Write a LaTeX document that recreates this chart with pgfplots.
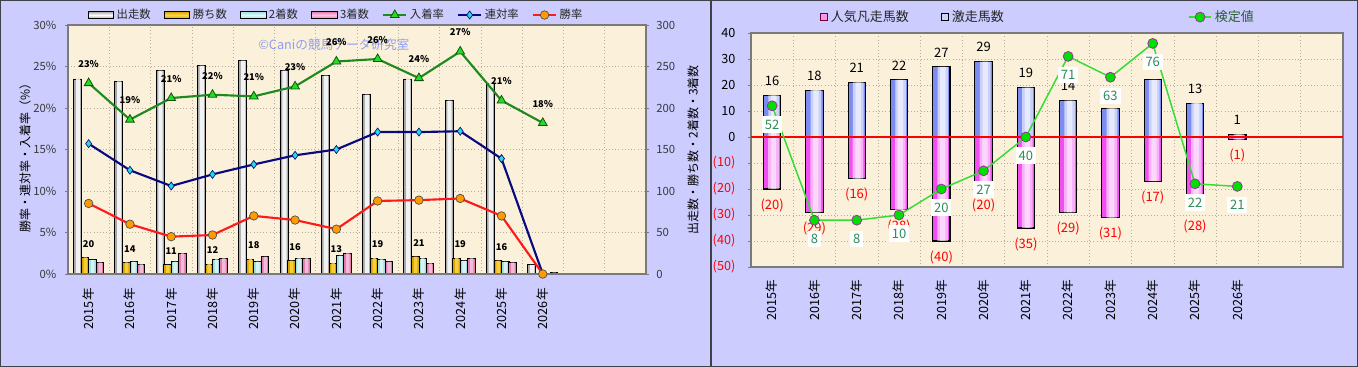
\documentclass[border=0pt]{standalone}
\usepackage{pgfplots}
\usepackage{pgfplotstable}
\pgfplotsset{compat=1.18}
\usepackage{fontspec}
\setmainfont{Noto Sans CJK JP}

\definecolor{panelbg}{HTML}{CCCCFF}
\definecolor{panelframe}{HTML}{404048}
\definecolor{plotbg}{HTML}{FBF1DB}
\definecolor{gridc}{HTML}{B5AC9C}
\definecolor{framec}{HTML}{7A7A7A}
\definecolor{ticktext}{HTML}{3A3A3A}
\definecolor{wmark}{HTML}{8E9DF2}
\definecolor{placeG}{HTML}{1E8A1E}
\definecolor{placeM}{HTML}{22DD22}
\definecolor{rentaiL}{HTML}{0A0A80}
\definecolor{rentaiM}{HTML}{22DDDD}
\definecolor{winL}{HTML}{FF1A1A}
\definecolor{winM}{HTML}{FF9A00}
\definecolor{runb}{HTML}{A8A8A8}
\definecolor{goldb}{HTML}{D9A400}
\definecolor{goldl}{HTML}{FFD84A}
\definecolor{cyanb}{HTML}{9EE0E0}
\definecolor{cyanl}{HTML}{DDFAFA}
\definecolor{pinkb}{HTML}{E878B0}
\definecolor{pinkl}{HTML}{FFC8E4}
\definecolor{gekiB}{HTML}{7C8CF0}
\definecolor{bonP}{HTML}{F050F0}
\definecolor{kenL}{HTML}{33DD33}
\definecolor{kenM}{HTML}{00E000}
\definecolor{kenE}{HTML}{993399}
\definecolor{kenT}{HTML}{2E8B5A}
\definecolor{legG}{HTML}{2A5E2A}

\pgfplotsset{/pgf/number format/assume math mode=true}

\pgfplotstableread{
x run win sec thr place rentai winr wl
0 235 20 17 14 23.0 15.7 8.5 20
1 232 14 15 12 18.6 12.5 6.0 14
2 245 11 15 25 21.2 10.6 4.5 11
3 251 12 18 19 21.6 12.0 4.7 12
4 257 18 15 21 21.4 13.2 7.0 18
5 245 16 19 19 22.6 14.3 6.5 16
6 239 13 22 25 25.6 15.0 5.4 13
7 216 19 18 15 25.9 17.1 8.8 19
8 235 21 19 13 23.6 17.1 8.9 21
9 209 19 16 19 26.8 17.2 9.1 19
10 230 16 15 14 20.9 13.9 7.0 16
11 11 0 0 2 18.2 0 0 {}
}\lefttab

\pgfplotstableread{
x geki bon ken gl bl kl
0 16 -20 12 16 (20) 52
1 18 -29 -32 18 (29) 8
2 21 -16 -32 21 (16) 8
3 22 -28 -30 22 (28) 10
4 27 -40 -20 27 (40) 20
5 29 -20 -13 29 (20) 27
6 19 -35 0 19 (35) 40
7 14 -29 31 14 (29) 71
8 11 -31 23 11 (31) 63
9 22 -17 36 22 (17) 76
10 13 -28 -18 13 (28) 22
11 1 -1 -19 1 (1) 21
}\righttab

\begin{document}
\begin{tikzpicture}
\useasboundingbox (0pt,0pt) rectangle (1018.5pt,275.25pt);
\fill[panelbg] (0pt,0pt) rectangle (1018.5pt,275.25pt);
\draw[panelframe, line width=1.1pt] (0.55pt,0.55pt) rectangle (533.25pt,274.7pt);
\draw[panelframe, line width=1.1pt] (533.25pt,0.55pt) rectangle (1017.95pt,274.7pt);

% ---------------- left chart: bars (right axis) ----------------
\begin{axis}[
  at={(51pt,69.75pt)}, anchor=south west,
  scale only axis, width=433.5pt, height=186.75pt,
  xmin=-0.5, xmax=13.5, ymin=0, ymax=300,
  axis background/.style={fill=plotbg},
  axis line style={framec, line width=0.8pt},
  xtick={0,...,11},
  xticklabels={2015年,2016年,2017年,2018年,2019年,2020年,2021年,2022年,2023年,2024年,2025年,2026年},
  xtick style={draw=none},
  minor xtick={0.5,1.5,...,12.5},
  minor tick length=0pt,
  xminorgrids, ymajorgrids,
  grid style={gridc, dotted, line width=0.5pt},
  minor grid style={gridc, dotted, line width=0.5pt},
  ytick={0,50,...,300},
  ytick pos=right, yticklabel pos=right,
  tick align=outside, major tick length=2.2pt,
  ytick style={framec},
  xticklabel style={yshift=-5pt, rotate=90, anchor=east, font=\fontsize{9.5}{10}\selectfont, text=black},
  yticklabel style={xshift=2pt, font=\fontsize{8.5}{10}\selectfont, text=ticktext},
]
% 出走数
\addplot[ybar, bar width=6pt, bar shift=-8.33pt, draw=black, line width=0.6pt, fill=runb] table[x=x, y=run]{\lefttab};
\addplot[ybar, forget plot, bar width=3.2pt, bar shift=-8.0pt, draw=none, fill=white, fill opacity=0.85] table[x=x, y=run]{\lefttab};
% 勝ち数
\addplot[ybar, bar width=5.6pt, bar shift=-2.78pt, draw=black, line width=0.6pt, fill=goldb,
  nodes near coords, point meta=explicit symbolic,
  every node near coord/.append style={anchor=south, yshift=4pt, text=black, font=\bfseries\fontsize{7}{8}\selectfont}]
  table[x=x, y=win, meta=wl]{\lefttab};
\addplot[ybar, forget plot, bar width=2.6pt, bar shift=-2.5pt, draw=none, fill=goldl, fill opacity=0.8] table[x=x, y=win]{\lefttab};
% 2着数
\addplot[ybar, bar width=5.6pt, bar shift=2.78pt, draw=black, line width=0.6pt, fill=cyanb] table[x=x, y=sec]{\lefttab};
\addplot[ybar, forget plot, bar width=2.6pt, bar shift=3.0pt, draw=none, fill=white, fill opacity=0.6] table[x=x, y=sec]{\lefttab};
% 3着数
\addplot[ybar, bar width=5.6pt, bar shift=8.33pt, draw=black, line width=0.6pt, fill=pinkb] table[x=x, y=thr]{\lefttab};
\addplot[ybar, forget plot, bar width=2.6pt, bar shift=8.6pt, draw=none, fill=white, fill opacity=0.5] table[x=x, y=thr]{\lefttab};
\node[text=wmark, font=\fontsize{9.5}{10}\selectfont] at (rel axis cs:0.46,0.92) {©Caniの競馬データ研究室};
\end{axis}

% ---------------- left chart: rates (left axis) ----------------
\begin{axis}[
  at={(51pt,69.75pt)}, anchor=south west,
  scale only axis, width=433.5pt, height=186.75pt,
  xmin=-0.5, xmax=13.5, ymin=0, ymax=30,
  axis line style={framec, line width=0.8pt},
  xtick=\empty,
  ytick={0,5,...,30}, ytick pos=left,
  yticklabel={\pgfmathprintnumber{\tick}\%},
  tick align=outside, major tick length=2.2pt, ytick style={framec},
  yticklabel style={xshift=-3pt, font=\fontsize{8.5}{10}\selectfont, text=ticktext},
  clip=false,
  legend columns=7,
  legend style={at={(0.4645,1.04)}, anchor=center, draw=none, fill=none,
    font=\fontsize{8.5}{10}\selectfont, text=black!85,
    /tikz/every even column/.append style={column sep=8pt}},
]
\addlegendimage{legend image code/.code={\draw[draw=black, line width=0.6pt, top color=runb, bottom color=runb, middle color=white] (0pt,-2.6pt) rectangle (19pt,2.6pt);}}
\addlegendimage{legend image code/.code={\draw[draw=black, line width=0.6pt, top color=goldb, bottom color=goldb, middle color=goldl] (0pt,-2.6pt) rectangle (19pt,2.6pt);}}
\addlegendimage{legend image code/.code={\draw[draw=black, line width=0.6pt, top color=cyanb, bottom color=cyanb, middle color=cyanl] (0pt,-2.6pt) rectangle (19pt,2.6pt);}}
\addlegendimage{legend image code/.code={\draw[draw=black, line width=0.6pt, top color=pinkb, bottom color=pinkb, middle color=pinkl] (0pt,-2.6pt) rectangle (19pt,2.6pt);}}
\addplot[placeG, line width=1.6pt, mark=triangle*, mark size=3.8pt,
  mark options={fill=placeM, draw=placeG!60!black, line width=0.6pt},
  nodes near coords={\pgfmathprintnumber[fixed,precision=0]{\pgfplotspointmeta}\%},
  point meta=explicit,
  every node near coord/.append style={anchor=south, yshift=8pt, text=black, font=\bfseries\fontsize{7}{8}\selectfont}]
  table[x=x, y=place, meta=place]{\lefttab};
\addplot[rentaiL, line width=1.6pt, mark=diamond*, mark size=3pt,
  mark options={fill=rentaiM, draw=rentaiL, line width=0.5pt}]
  table[x=x, y=rentai]{\lefttab};
\addplot[winL, line width=1.6pt, mark=*, mark size=3.2pt,
  mark options={fill=winM, draw=black!70, line width=0.5pt}]
  table[x=x, y=winr]{\lefttab};
\legend{出走数,勝ち数,2着数,3着数,入着率,連対率,勝率}
\end{axis}

\node[rotate=90, font=\fontsize{9}{10}\selectfont] at (18.75pt,159pt) {勝率・連対率・入着率（\%）};
\node[rotate=90, font=\fontsize{9}{10}\selectfont] at (519.75pt,162.75pt) {出走数・勝ち数・2着数・3着数};

% ---------------- right chart: bars ----------------
\begin{axis}[
  at={(563.25pt,75pt)}, anchor=south west,
  scale only axis, width=444pt, height=175.5pt,
  xmin=-0.5, xmax=13.5, ymin=-50, ymax=40,
  axis background/.style={fill=plotbg},
  axis line style={framec, line width=0.9pt},
  xtick={0,...,11},
  xticklabels={2015年,2016年,2017年,2018年,2019年,2020年,2021年,2022年,2023年,2024年,2025年,2026年},
  xtick style={draw=none},
  minor xtick={0.5,1.5,...,12.5}, minor tick length=0pt,
  xminorgrids, ymajorgrids,
  grid style={gridc, dotted, line width=0.5pt},
  minor grid style={gridc, dotted, line width=0.5pt},
  ytick={-50,-40,...,40},
  yticklabels={\textcolor{red}{(50)},\textcolor{red}{(40)},\textcolor{red}{(30)},\textcolor{red}{(20)},\textcolor{red}{(10)},0,10,20,30,40},
  ytick pos=left, tick align=outside, major tick length=2.2pt, ytick style={framec},
  yticklabel style={xshift=-6pt, font=\fontsize{9.5}{10}\selectfont, text=black},
  xticklabel style={yshift=-4pt, rotate=90, anchor=east, font=\fontsize{9.5}{10}\selectfont, text=black},
  legend columns=2,
  legend style={at={(0.274,1.068)}, anchor=center, draw=none, fill=none,
    font=\fontsize{9.75}{11}\selectfont, text=black!85,
    /tikz/every even column/.append style={column sep=22pt}},
]
\addplot[ybar, bar width=13pt, bar shift=0pt, draw=black, line width=0.8pt, fill=bonP,
  nodes near coords, point meta=explicit symbolic,
  every node near coord/.append style={anchor=north, yshift=-3.5pt, text=red, font=\fontsize{9.75}{11}\selectfont},
  legend image code/.code={\draw[fill=bonP!60!white, draw=purple!60!black, line width=0.6pt] (0pt,-2.8pt) rectangle (5.6pt,2.8pt);}]
  table[x=x, y=bon, meta=bl]{\righttab};
\addlegendentry{人気凡走馬数}
\addplot[ybar, forget plot, bar width=8pt, bar shift=1pt, draw=none, fill=white, fill opacity=0.55] table[x=x, y=bon]{\righttab};
\addplot[ybar, forget plot, bar width=4pt, bar shift=1pt, draw=none, fill=white, fill opacity=0.5] table[x=x, y=bon]{\righttab};
\addplot[ybar, bar width=13pt, bar shift=0pt, draw=black, line width=0.8pt, fill=gekiB,
  nodes near coords, point meta=explicit symbolic,
  every node near coord/.append style={anchor=south, yshift=3.5pt, text=black, font=\fontsize{9.75}{11}\selectfont},
  legend image code/.code={\draw[fill=gekiB!40!white, draw=black, line width=0.6pt] (0pt,-2.8pt) rectangle (5.6pt,2.8pt);}]
  table[x=x, y=geki, meta=gl]{\righttab};
\addlegendentry{激走馬数}
\addplot[ybar, forget plot, bar width=8pt, bar shift=1.2pt, draw=none, fill=white, fill opacity=0.6] table[x=x, y=geki]{\righttab};
\addplot[ybar, forget plot, bar width=4pt, bar shift=1.2pt, draw=none, fill=white, fill opacity=0.55] table[x=x, y=geki]{\righttab};
\end{axis}

% ---------------- right chart: line ----------------
\begin{axis}[
  at={(563.25pt,75pt)}, anchor=south west,
  scale only axis, width=444pt, height=175.5pt,
  xmin=-0.5, xmax=13.5, ymin=-50, ymax=40,
  hide axis,
  legend style={at={(0.796,1.068)}, anchor=center, draw=none, fill=none,
    font=\fontsize{9.75}{11}\selectfont, text=legG},
]
\addplot[red, line width=2.2pt, forget plot] coordinates {(-0.5,0) (13.5,0)};
\addplot[kenL, line width=1.1pt, mark=*, mark size=3.7pt,
  mark options={fill=kenM, draw=kenE, line width=0.6pt},
  nodes near coords, point meta=explicit symbolic,
  every node near coord/.append style={anchor=north, yshift=-7.5pt, fill=white, text=kenT,
    inner xsep=2.2pt, inner ysep=2.6pt, font=\fontsize{9.75}{11}\selectfont}]
  table[x=x, y=ken, meta=kl]{\righttab};
\addlegendentry{検定値}
\end{axis}
\end{tikzpicture}
\end{document}
